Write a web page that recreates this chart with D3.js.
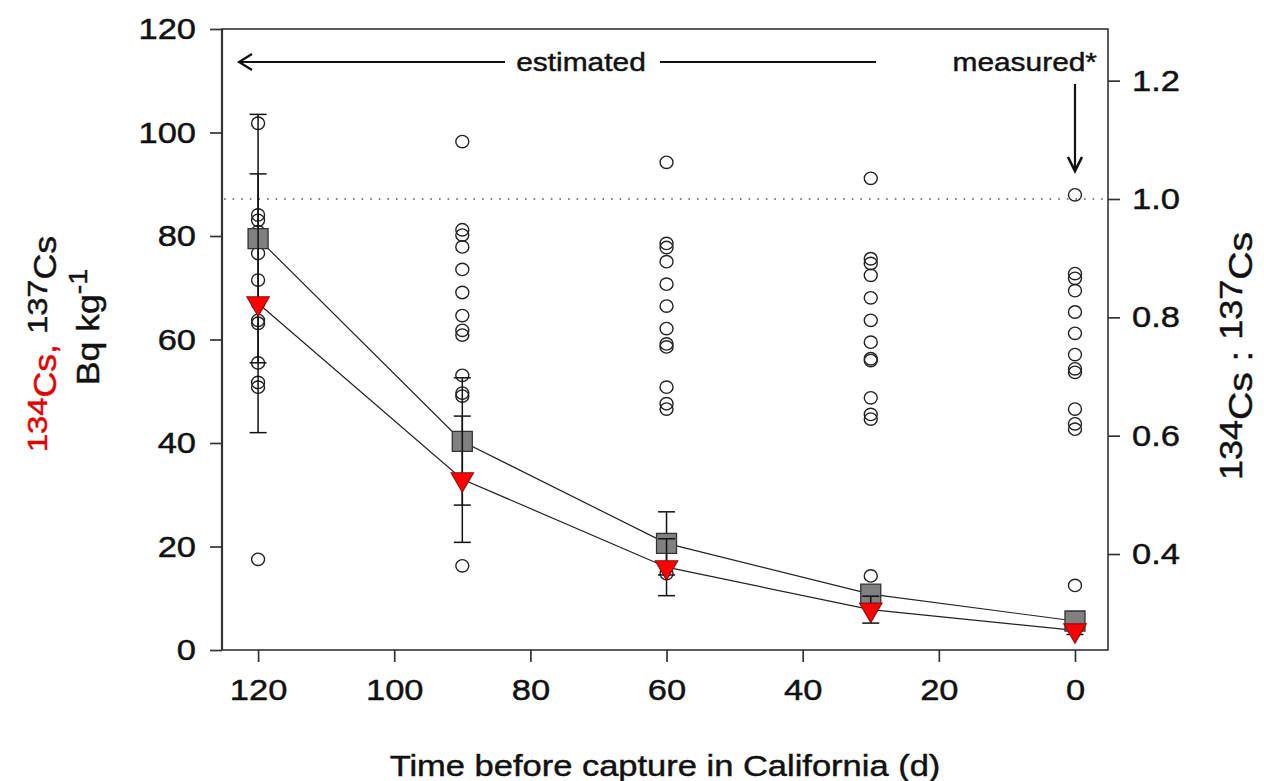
<!DOCTYPE html>
<html><head><meta charset="utf-8">
<script src="https://cdn.jsdelivr.net/npm/d3@7"></script>
<style>body{margin:0;background:#fff} text{font-family:"Liberation Sans",Arial,sans-serif;fill:#111}</style>
</head><body><svg id="c" width="1264" height="781"></svg>
<script>
// ---- data ----
const days = [120, 90, 60, 30, 0];
const cs137Mean = [79.5, 40.3, 20.6, 10.8, 5.6];
const cs137Sd   = [24.0, 12.3, 6.1, 1.5, 0.8];
const cs134Mean = [67.0, 33.0, 16.0, 7.8, 3.8];
const cs134Sd   = [25.0, 12.2, 5.5, 2.6, 0.8];
// individual 134Cs:137Cs ratios (right axis)
const ratio120 = [1.128, 0.973, 0.964, 0.945, 0.908, 0.863, 0.823, 0.795, 0.790, 0.723, 0.690, 0.682, 0.391];
const ratio90  = [1.097, 0.948, 0.939, 0.919, 0.881, 0.842, 0.803, 0.778, 0.770, 0.702, 0.672, 0.667, 0.380];
const ratio60  = [1.062, 0.925, 0.918, 0.894, 0.856, 0.819, 0.781, 0.755, 0.750, 0.682, 0.654, 0.645, 0.367];
const ratio30  = [1.035, 0.899, 0.891, 0.871, 0.833, 0.795, 0.758, 0.730, 0.727, 0.664, 0.636, 0.628, 0.363];
const ratio0   = [1.007, 0.874, 0.866, 0.845, 0.809, 0.773, 0.737, 0.713, 0.707, 0.645, 0.620, 0.611, 0.347];
const ratioGroups = [ratio120, ratio90, ratio60, ratio30, ratio0];
const xTicks = [120, 100, 80, 60, 40, 20, 0];
const yLeftTicks = [0, 20, 40, 60, 80, 100, 120];
const yRightTicks = [0.4, 0.6, 0.8, 1.0, 1.2];
const ratioRef = 1.0;

// ---- layout ----
const L = 222, R = 1108, T = 29, B = 650;
const K = 1.15; // horizontal glyph stretch
const svg = d3.select("#c");
const x = d3.scaleLinear().domain([125.3, -4.85]).range([L, R]);
const yL = d3.scaleLinear().domain([0, 120]).range([B, T]);
const yR = d3.scaleLinear().domain([0.2378, 1.2873]).range([B, T]);

function stretch(sel) {
  sel.each(function () {
    const t = d3.select(this);
    const x0 = +t.attr("x") || 0;
    t.attr("transform", `translate(${x0},0) scale(${K},1) translate(${-x0},0)`);
  });
}
function heavy(sel) { sel.attr("stroke", "#111").attr("stroke-width", 0.45); }

// axes
const fs = 30;
const gx = svg.append("g").attr("transform", `translate(0,${B})`)
  .call(d3.axisBottom(x).tickValues(xTicks).tickSize(12).tickPadding(16).tickFormat(d3.format("d")));
const gl = svg.append("g").attr("transform", `translate(${L},0)`)
  .call(d3.axisLeft(yL).tickValues(yLeftTicks).tickSize(12).tickPadding(14).tickFormat(d3.format("d")));
const gr = svg.append("g").attr("transform", `translate(${R},0)`)
  .call(d3.axisRight(yR).tickValues(yRightTicks).tickSize(12).tickPadding(12).tickFormat(d3.format(".1f")));
[gx, gl, gr].forEach(g => {
  g.select(".domain").remove();
  g.selectAll(".tick line").attr("stroke", "#333").attr("stroke-width", 1.7);
  g.selectAll(".tick text").attr("font-size", fs).attr("font-family", "Liberation Sans, Arial, sans-serif").attr("fill", "#111");
  stretch(g.selectAll(".tick text"));
  heavy(g.selectAll(".tick text"));
});
gx.selectAll(".tick text").attr("dy", "0.75em");

// frame
svg.append("rect").attr("x", L).attr("y", T).attr("width", R - L).attr("height", B - T)
  .attr("fill", "none").attr("stroke", "#333").attr("stroke-width", 1.6);
svg.append("line").attr("x1", L).attr("x2", L).attr("y1", T).attr("y2", B).attr("stroke", "#333").attr("stroke-width", 2.2);

// reference dotted line (ratio = 1)
svg.append("line").attr("x1", L + 2).attr("x2", R - 2).attr("y1", yR(ratioRef)).attr("y2", yR(ratioRef))
  .attr("stroke", "#555").attr("stroke-width", 1.6).attr("stroke-dasharray", "1.6,7");

// individual ratio circles
ratioGroups.forEach((grp, i) => {
  svg.append("g").selectAll("ellipse").data(grp).join("ellipse")
    .attr("cx", x(days[i])).attr("cy", d => yR(d)).attr("rx", 6.5).attr("ry", 6.2)
    .attr("fill", "none").attr("stroke", "#222").attr("stroke-width", 1.4);
});

function errBars(means, sds) {
  const g = svg.append("g").attr("stroke", "#111").attr("stroke-width", 1.5);
  days.forEach((d, i) => {
    const cx = x(d), y1 = yL(means[i] + sds[i]), y2 = yL(means[i] - sds[i]);
    g.append("line").attr("x1", cx).attr("x2", cx).attr("y1", y1).attr("y2", y2);
    g.append("line").attr("x1", cx - 8.5).attr("x2", cx + 8.5).attr("y1", y1).attr("y2", y1);
    g.append("line").attr("x1", cx - 8.5).attr("x2", cx + 8.5).attr("y1", y2).attr("y2", y2);
  });
}
const meanLine = d3.line().x((d, i) => x(days[i])).y(d => yL(d));

// connecting lines
svg.append("path").attr("d", meanLine(cs137Mean)).attr("fill", "none").attr("stroke", "#222").attr("stroke-width", 1.2);
svg.append("path").attr("d", meanLine(cs134Mean)).attr("fill", "none").attr("stroke", "#222").attr("stroke-width", 1.2);

// 137Cs: error bars + squares
errBars(cs137Mean, cs137Sd);
svg.append("g").selectAll("path").data(cs137Mean).join("path")
  .attr("d", d3.symbol(d3.symbolSquare, 400)())
  .attr("transform", (d, i) => `translate(${x(days[i])},${yL(d)})`)
  .attr("fill", "#808080").attr("stroke", "#333").attr("stroke-width", 1.3);

// 134Cs: error bars + down triangles
errBars(cs134Mean, cs134Sd);
svg.append("g").selectAll("path").data(cs134Mean).join("path")
  .attr("d", d3.symbol(d3.symbolTriangle, 220)())
  .attr("transform", (d, i) => `translate(${x(days[i])},${yL(d)}) rotate(180)`)
  .attr("fill", "#ff0000").attr("stroke", "#8a1010").attr("stroke-width", 1.1);

// annotations
const ann = svg.append("g").attr("stroke", "#111").attr("stroke-width", 2.2).attr("fill", "none");
const ay = 62;
ann.append("line").attr("x1", 240).attr("x2", 505).attr("y1", ay).attr("y2", ay);
ann.append("path").attr("d", `M252,${ay - 8} L239,${ay} L252,${ay + 8}`);
ann.append("line").attr("x1", 660).attr("x2", 876).attr("y1", ay).attr("y2", ay);
const e1 = svg.append("text").attr("x", 581).attr("y", ay + 9).attr("text-anchor", "middle").attr("font-size", 26).text("estimated");
const e2 = svg.append("text").attr("x", 1097).attr("y", ay + 9).attr("text-anchor", "end").attr("font-size", 26).text("measured*");
stretch(e1); stretch(e2); heavy(e1); heavy(e2);
const ax = x(0);
ann.append("line").attr("x1", ax).attr("x2", ax).attr("y1", 84).attr("y2", 170);
ann.append("path").attr("d", `M${ax - 7},157 L${ax},171 L${ax + 7},157`).attr("stroke-width", 2.6);

// axis titles
const xt = svg.append("text").attr("x", 665).attr("y", 776).attr("text-anchor", "middle").attr("font-size", 30)
  .text("Time before capture in California (d)");
stretch(xt); heavy(xt);

function cs(t, mass, color, size) {
  t.append("tspan").attr("font-size", size * 0.92).attr("fill", color).attr("stroke", color).attr("dy", -size * 0.3).text(mass);
  t.append("tspan").attr("font-size", size).attr("fill", color).attr("stroke", color).attr("dy", size * 0.3).text("Cs");
}
const t1 = svg.append("text").attr("transform", `translate(56,344) rotate(-90) scale(${K},1)`).attr("text-anchor", "middle").attr("stroke-width", 0.45);
cs(t1, "134", "#e00000", 31);
t1.append("tspan").attr("fill", "#e00000").attr("stroke", "#e00000").attr("font-size", 31).text(", ");
cs(t1, "137", "#111", 31);

const t2 = svg.append("text").attr("transform", `translate(99,327) rotate(-90) scale(${K},1)`).attr("text-anchor", "middle").attr("font-size", 31);
heavy(t2);
t2.append("tspan").text("Bq kg");
t2.append("tspan").attr("font-size", 25).attr("dy", -12).text("-1");

const t3 = svg.append("text").attr("transform", `translate(1252,356) rotate(-90) scale(${K},1)`).attr("text-anchor", "middle").attr("stroke-width", 0.45);
cs(t3, "134", "#111", 34);
t3.append("tspan").attr("font-size", 34).attr("stroke", "#111").text(" : ");
cs(t3, "137", "#111", 34);
</script></body></html>
